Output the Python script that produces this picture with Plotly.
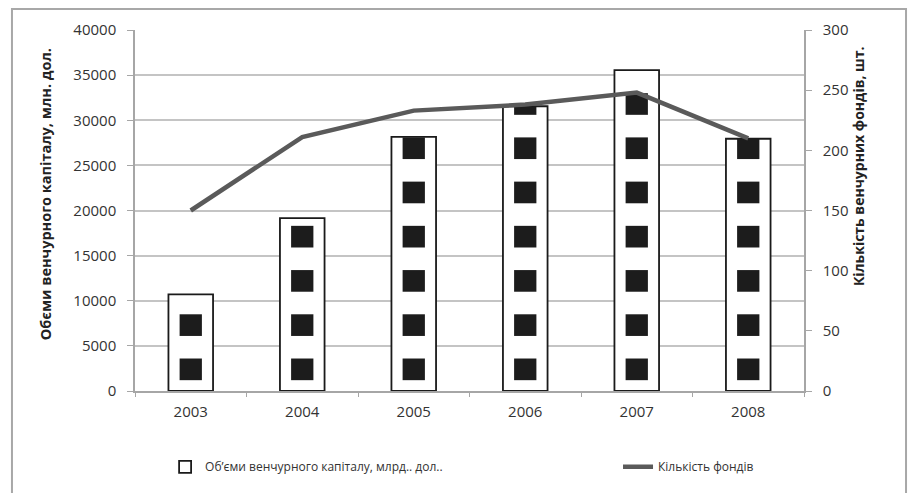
import plotly.graph_objects as go

years = ["2003", "2004", "2005", "2006", "2007", "2008"]
capital = [10700, 19150, 28150, 31550, 35550, 27950]
funds = [150, 211, 233, 238, 248, 210]

bar_name = "Об’єми венчурного капіталу, млрд.. дол.."
line_name = "Кількість фондів"
left_title = "Обєми венчурного капіталу, млн. дол."
right_title = "Кількість венчурних фондів, шт."

# pattern of black squares inside bars (style constants)
sq_first, sq_step, sq_half = 2400, 4900, 1200
sq_x, sq_base, sq_h = [], [], []
for yr, v in zip(years, capital):
    c = sq_first
    while c - sq_half < v:
        sq_x.append(yr)
        sq_base.append(c - sq_half)
        sq_h.append(min(2 * sq_half, v - (c - sq_half)))
        c += sq_step

FONT = "Open Sans"
fig = go.Figure()
fig.add_trace(go.Bar(x=years, y=capital, name=bar_name, width=0.4, legend="legend",
                     marker=dict(color="white", line=dict(color="#1a1a1a", width=1.8))))
fig.add_trace(go.Bar(x=sq_x, y=sq_h, base=sq_base, width=0.2, showlegend=False,
                     marker=dict(color="#1c1c1c", line=dict(width=0)), hoverinfo="skip"))
fig.add_trace(go.Scatter(x=years, y=funds, name=line_name, yaxis="y2", mode="lines",
                         legend="legend2", line=dict(color="#5a5a5a", width=4.5)))

tickfont = dict(family=FONT, size=15, color="#333333")
legfont = dict(family=FONT, size=12, color="#333333")
fig.update_layout(
    width=909, height=493, barmode="overlay",
    paper_bgcolor="white", plot_bgcolor="white",
    margin=dict(l=135, r=105, t=30, b=100),
    xaxis=dict(showline=True, linecolor="#a6a6a6", linewidth=1.5, ticks="outside",
               tickson="boundaries", ticklen=4, tickcolor="#a6a6a6",
               tickfont=tickfont, showgrid=False, ticklabelstandoff=6),
    yaxis=dict(range=[0, 40000], dtick=5000, tickformat="d", showgrid=True,
               gridcolor="#c4c4c4", gridwidth=1.5, zeroline=False, showline=True,
               linecolor="#a6a6a6", linewidth=1.5, ticks="outside", ticklen=6,
               tickcolor="#a6a6a6", tickfont=tickfont, ticklabelstandoff=8),
    yaxis2=dict(range=[0, 300], dtick=50, overlaying="y", side="right", showgrid=False,
                zeroline=False, showline=True, linecolor="#a6a6a6", linewidth=1.5,
                ticks="outside", ticklen=6, tickcolor="#a6a6a6", tickfont=tickfont,
                ticklabelstandoff=8),
    legend=dict(orientation="h", x=0.045, xanchor="left", y=-0.21, yanchor="middle",
                font=legfont, bgcolor="rgba(0,0,0,0)"),
    legend2=dict(orientation="h", x=0.722, xanchor="left", y=-0.21, yanchor="middle",
                 font=legfont, bgcolor="rgba(0,0,0,0)"),
    showlegend=True,
    annotations=[
        dict(text="<b>" + left_title + "</b>", xref="paper", yref="paper", x=-0.1345, y=0.545,
             xanchor="center", yanchor="middle", textangle=-90, showarrow=False,
             font=dict(family=FONT, size=14.5, color="#222222")),
        dict(text="<b>" + right_title + "</b>", xref="paper", yref="paper", x=1.0807, y=0.623,
             xanchor="center", yanchor="middle", textangle=-90, showarrow=False,
             font=dict(family=FONT, size=14, color="#222222")),
    ],
    shapes=[dict(type="rect", xref="paper", yref="paper", x0=-0.1839, x1=1.1525,
                 y0=-0.3, y1=1.0579, line=dict(color="#a8a8a8", width=2), layer="below")],
)
fig.write_html("out.html")
